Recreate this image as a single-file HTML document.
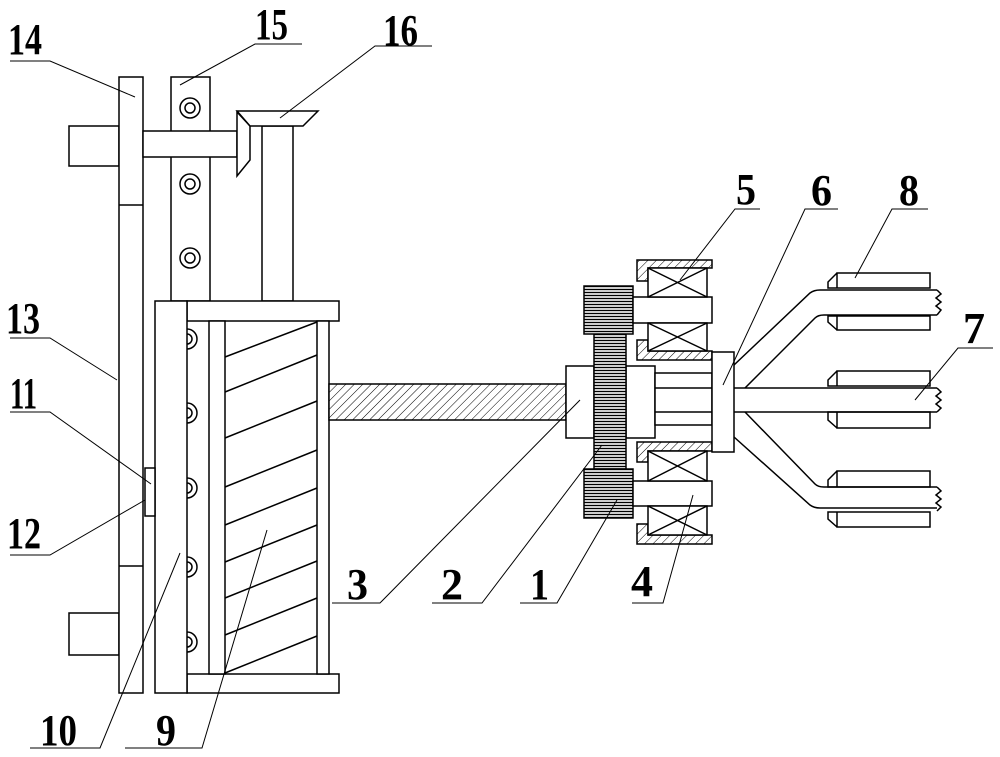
<!DOCTYPE html>
<html><head><meta charset="utf-8"><style>
html,body{margin:0;padding:0;background:#fff}
svg{display:block}
text{font-family:"Liberation Serif",serif;font-size:44px;font-weight:bold;fill:#000}
</style></head><body>
<svg width="1000" height="757" viewBox="0 0 1000 757" xmlns="http://www.w3.org/2000/svg">
<defs>
<pattern id="h" width="6" height="6" patternUnits="userSpaceOnUse" patternTransform="rotate(45)">
<rect width="6" height="6" fill="#fff"/><line x1="0" y1="0" x2="0" y2="6" stroke="#000" stroke-width="1"/></pattern>
<pattern id="g" width="4" height="3" patternUnits="userSpaceOnUse">
<rect width="4" height="3" fill="#fff"/><line x1="0" y1="1.5" x2="4" y2="1.5" stroke="#000" stroke-width="1.4"/></pattern>
</defs>
<g fill="#fff" stroke="#000" stroke-width="1.5">
<rect x="69" y="126" width="50" height="40"/>
<rect x="69" y="613" width="50" height="42"/>
<rect x="119" y="77" width="24" height="616"/>
<line x1="119" y1="205" x2="143" y2="205"/>
<line x1="119" y1="566" x2="143" y2="566"/>
<rect x="171" y="77" width="39" height="224"/>
<rect x="143" y="131" width="94" height="26"/>
<rect x="262" y="126" width="31" height="175"/>
<polygon points="237,112 250,126 250,160 237,176"/>
<polygon points="237,111 318,111 303,126 250,126"/>
<circle cx="190" cy="108" r="10"/><circle cx="190" cy="108" r="5"/>
<circle cx="190" cy="184" r="10"/><circle cx="190" cy="184" r="5"/>
<circle cx="190" cy="258" r="10"/><circle cx="190" cy="258" r="5"/>
<rect x="187" y="301" width="152" height="20"/>
<rect x="187" y="674" width="152" height="19"/>
<rect x="317" y="321" width="12" height="353"/>
<rect x="209" y="321" width="16" height="353"/>
<path d="M187,329 A10,10 0 0 1 187,349 M187,334 A5,5 0 0 1 187,344"/>
<path d="M187,403 A10,10 0 0 1 187,423 M187,408 A5,5 0 0 1 187,418"/>
<path d="M187,478 A10,10 0 0 1 187,498 M187,483 A5,5 0 0 1 187,493"/>
<path d="M187,557 A10,10 0 0 1 187,577 M187,562 A5,5 0 0 1 187,572"/>
<path d="M187,632 A10,10 0 0 1 187,652 M187,637 A5,5 0 0 1 187,647"/>
<rect x="155" y="301" width="32" height="392"/>
<rect x="145" y="468" width="10" height="48"/>
<rect x="329" y="384" width="237" height="36" fill="url(#h)"/>
<rect x="566" y="366" width="28" height="72"/>
<rect x="626" y="366" width="29" height="72"/>
<rect x="655" y="373" width="57" height="52"/>
<line x1="655" y1="388" x2="712" y2="388"/>
<line x1="655" y1="412" x2="712" y2="412"/>
<rect x="594" y="334" width="32" height="135" fill="url(#g)"/>
<rect x="584" y="286" width="49" height="48" fill="url(#g)"/>
<rect x="584" y="469" width="49" height="49" fill="url(#g)"/>
<rect x="633" y="297" width="79" height="26"/>
<rect x="633" y="481" width="79" height="25"/>
<path d="M637,260 H712 V268 H648 V281 H637 Z" fill="url(#h)"/>
<path d="M637,340 H648 V351 H712 V360 H637 Z" fill="url(#h)"/>
<rect x="648" y="268" width="59" height="29"/>
<path d="M648,268 L707,297 M707,268 L648,297"/>
<rect x="648" y="323" width="59" height="28"/>
<path d="M648,323 L707,351 M707,323 L648,351"/>
<path d="M637,442 H712 V451 H648 V462 H637 Z" fill="url(#h)"/>
<path d="M637,524 H648 V535 H712 V544 H637 Z" fill="url(#h)"/>
<rect x="648" y="451" width="59" height="30"/>
<path d="M648,451 L707,481 M707,451 L648,481"/>
<rect x="648" y="506" width="59" height="29"/>
<path d="M648,506 L707,535 M707,506 L648,535"/>
<rect x="712" y="352" width="22" height="100"/>
<g>
<path d="M837,273 H930 V288 H837 Z M837,273 L828,282 V288 H837"/>
<path d="M837,316 H930 V330 H837 Z M837,330 L828,322 V316 H837"/>
<path d="M837,371 H930 V386 H837 Z M837,371 L828,380 V386 H837"/>
<path d="M837,412 H930 V428 H837 Z M837,428 L828,420 V412 H837"/>
<path d="M837,471 H930 V487 H837 Z M837,471 L828,480 V487 H837"/>
<path d="M837,512 H930 V527 H837 Z M837,527 L828,519 V512 H837"/>
</g>
</g>
<g fill="none" stroke="#000" stroke-width="1.5">
<path d="M734,388 H937 M734,412 H937"/>
<path d="M937,388 l4,4 -5,4 5,4 -5,4 5,4 -4,4"/>
<path d="M734,365 L810,293 Q814,290 820,290 H937"/>
<path d="M745,388 L815,318 Q818,315 824,315 H937"/>
<path d="M937,290 l4,4 -5,4 5,4 -5,4 5,4 -4,5"/>
<path d="M745,412 L815,484 Q818,487 824,487 H937"/>
<path d="M734,437 L810,505 Q814,508 820,508 H937"/>
<path d="M937,487 l4,4 -5,4 5,4 -5,4 5,4 -4,4"/>
<path d="M225,357 L317,322 M225,392 L317,355 M225,438 L317,401 M225,487 L317,450 M225,525 L317,488 M225,562 L317,525 M225,598 L317,561 M225,635 L317,598 M225,673 L317,636"/>
</g>
<g fill="none" stroke="#000" stroke-width="1">
<path d="M10,61 H50 L135,97"/>
<path d="M302,44 H255 L180,85"/>
<path d="M432,46 H375 L280,118"/>
<path d="M10,338 H50 L117,380"/>
<path d="M10,412 H50 L151,484"/>
<path d="M10,555 H50 L145,500"/>
<path d="M30,748 H100 L180,553"/>
<path d="M125,748 H202 L267,530"/>
<path d="M332,603 H380 L580,400"/>
<path d="M432,603 H482 L602,445"/>
<path d="M520,603 H557 L617,500"/>
<path d="M632,603 H663 L693,495"/>
<path d="M760,209 H735 L680,280"/>
<path d="M838,209 H805 L723,385"/>
<path d="M928,209 H892 L855,278"/>
<path d="M993,348 H958 L915,400"/>
</g>
<g>
<text x="8" y="54" textLength="34" lengthAdjust="spacingAndGlyphs">14</text>
<text x="255" y="39" textLength="33" lengthAdjust="spacingAndGlyphs">15</text>
<text x="383" y="45" textLength="35" lengthAdjust="spacingAndGlyphs">16</text>
<text x="6" y="333" textLength="34" lengthAdjust="spacingAndGlyphs">13</text>
<text x="10" y="408" textLength="27" lengthAdjust="spacingAndGlyphs">11</text>
<text x="7" y="548" textLength="34" lengthAdjust="spacingAndGlyphs">12</text>
<text x="40" y="745" textLength="37" lengthAdjust="spacingAndGlyphs">10</text>
<text x="156" y="745" textLength="20" lengthAdjust="spacingAndGlyphs">9</text>
<text x="347" y="599" textLength="21" lengthAdjust="spacingAndGlyphs">3</text>
<text x="441" y="599" textLength="22" lengthAdjust="spacingAndGlyphs">2</text>
<text x="530" y="599" textLength="19" lengthAdjust="spacingAndGlyphs">1</text>
<text x="631" y="596" textLength="22" lengthAdjust="spacingAndGlyphs">4</text>
<text x="736" y="204" textLength="20" lengthAdjust="spacingAndGlyphs">5</text>
<text x="811" y="205" textLength="21" lengthAdjust="spacingAndGlyphs">6</text>
<text x="899" y="205" textLength="20" lengthAdjust="spacingAndGlyphs">8</text>
<text x="963" y="343" textLength="22" lengthAdjust="spacingAndGlyphs">7</text>
</g>
</svg>
</body></html>
